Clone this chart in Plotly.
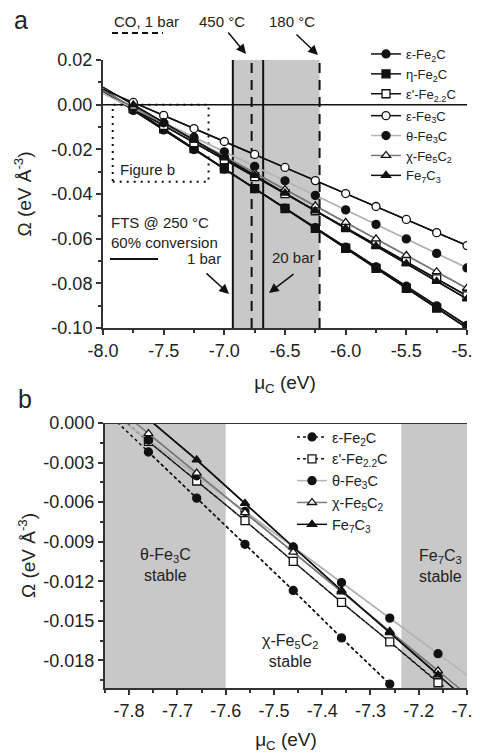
import plotly.graph_objects as go

# ---------------- data ----------------
# panel a : grand potential vs carbon chemical potential
mu_a = [-8.0, -7.75, -7.5, -7.25, -7.0, -6.75, -6.5, -6.25, -6.0, -5.75, -5.5, -5.25, -5.0]
eps_fe2c_a = [0.0062, -0.0026, -0.0113, -0.0201, -0.0288, -0.0376, -0.0463, -0.0551, -0.0638, -0.0726, -0.0813, -0.0901, -0.0988]
eta_fe2c_a = [0.0070, -0.0019, -0.0108, -0.0197, -0.0287, -0.0376, -0.0465, -0.0554, -0.0643, -0.0733, -0.0822, -0.0911, -0.1000]
epsp_fe22c_a = [0.0059, -0.0017, -0.0093, -0.0170, -0.0246, -0.0322, -0.0398, -0.0475, -0.0551, -0.0627, -0.0703, -0.0780, -0.0856]
eps_fe3c_a = [0.0068, 0.0010, -0.0048, -0.0107, -0.0165, -0.0223, -0.0281, -0.0340, -0.0398, -0.0456, -0.0514, -0.0573, -0.0631]
theta_fe3c_a = [0.0049, -0.0016, -0.0081, -0.0146, -0.0211, -0.0276, -0.0341, -0.0406, -0.0471, -0.0536, -0.0601, -0.0666, -0.0731]
chi_fe5c2_a = [0.0063, -0.0011, -0.0085, -0.0158, -0.0232, -0.0306, -0.0380, -0.0453, -0.0527, -0.0601, -0.0675, -0.0748, -0.0822]
fe7c3_a = [0.0078, -0.0001, -0.0080, -0.0159, -0.0238, -0.0317, -0.0396, -0.0475, -0.0554, -0.0633, -0.0712, -0.0791, -0.0870]

# reference chemical potentials (vertical lines) and shaded window
fts_mu = [-6.93, -6.68]        # FTS 1 bar, 20 bar
co_mu = [-6.775, -6.215]       # CO 1 bar at 450 C, 180 C
window_a = [-6.93, -6.215]
zoom_box = [-7.92, -7.13, -0.0345, 0.0]

# panel b : zoom
mu_b = [-7.86, -7.76, -7.66, -7.56, -7.46, -7.36, -7.26, -7.16, -7.06]
eps_fe2c_b = [0.0013, -0.0022, -0.0057, -0.0092, -0.0127, -0.0163, -0.0198, -0.0233, -0.0268]
epsp_fe22c_b = [0.0017, -0.0014, -0.0044, -0.0074, -0.0105, -0.0136, -0.0166, -0.0197, -0.0227]
theta_fe3c_b = [0.0014, -0.0013, -0.0040, -0.0067, -0.0094, -0.0121, -0.0148, -0.0175, -0.0202]
chi_fe5c2_b = [0.0022, -0.0008, -0.0038, -0.0068, -0.0098, -0.0128, -0.0158, -0.0188, -0.0218]
fe7c3_b = [0.0035, 0.0003, -0.0028, -0.0061, -0.0094, -0.0127, -0.0159, -0.0191, -0.0223]
theta_region = [-7.85, -7.6]
fe7c3_region = [-7.236, -7.1]

xtick_a = [-8.0, -7.5, -7.0, -6.5, -6.0, -5.5, -5.0]
xtext_a = ["-8.0", "-7.5", "-7.0", "-6.5", "-6.0", "-5.5", "-5.0"]
ytick_a = [0.02, 0.0, -0.02, -0.04, -0.06, -0.08, -0.10]
ytext_a = ["0.02", "0.00", "-0.02", "-0.04", "-0.06", "-0.08", "-0.10"]
xtick_b = [-7.8, -7.7, -7.6, -7.5, -7.4, -7.3, -7.2, -7.1]
xtext_b = ["-7.8", "-7.7", "-7.6", "-7.5", "-7.4", "-7.3", "-7.2", "-7.1"]
ytick_b = [0.0, -0.003, -0.006, -0.009, -0.012, -0.015, -0.018]
ytext_b = ["0.000", "-0.003", "-0.006", "-0.009", "-0.012", "-0.015", "-0.018"]

# ---------------- layout helpers ----------------
# the page body has an 8px margin, so the figure is drawn 8px right/down of the window corner
FONT = "Liberation Sans, Arial, Helvetica, sans-serif"
OFF = 8
W, H = 472, 745
L, T = 103 - OFF, 60 - OFF          # plot left/top in figure pixels
R = W - (467 - OFF)                 # plot right edge at window x = 467
B = H - (688 - OFF)                 # plot bottom edge at window y = 688
PW, PH = W - L - R, H - T - B


def px(x):
    """window pixel x -> paper fraction"""
    return (x - OFF - L) / PW


def py(y):
    """window pixel y -> paper fraction"""
    return (H - B - (y - OFF)) / PH


BLACK = "#111111"
GRAY_FILL = "#c8c8c8"

fig = go.Figure()

series_a = [
    ("ε-Fe<sub>2</sub>C", eps_fe2c_a, "circle", BLACK, BLACK, "g1"),
    ("η-Fe<sub>2</sub>C", eta_fe2c_a, "square", BLACK, BLACK, "g1"),
    ("ε'-Fe<sub>2.2</sub>C", epsp_fe22c_a, "square", "white", BLACK, "g1"),
    ("ε-Fe<sub>3</sub>C", eps_fe3c_a, "circle", "white", BLACK, "g2"),
    ("θ-Fe<sub>3</sub>C", theta_fe3c_a, "circle", BLACK, "#b4b4b4", "g2"),
    ("χ-Fe<sub>5</sub>C<sub>2</sub>", chi_fe5c2_a, "triangle-up", "white", "#7a7a7a", "g2"),
    ("Fe<sub>7</sub>C<sub>3</sub>", fe7c3_a, "triangle-up", BLACK, BLACK, "g2"),
]

for name, vals, sym, fill, lcol, grp in series_a:
    fig.add_trace(go.Scatter(x=mu_a, y=vals, mode="lines", line=dict(color=lcol, width=1.5),
                             showlegend=False, hoverinfo="skip", xaxis="x", yaxis="y"))
for name, vals, sym, fill, lcol, grp in series_a:
    fig.add_trace(go.Scatter(x=mu_a[1:], y=vals[1:], mode="lines+markers", name=name,
                             line=dict(color=lcol, width=1.5),
                             marker=dict(symbol=sym, size=8, color=fill, line=dict(color=BLACK, width=1.3)),
                             legend="legend", legendgroup=grp, xaxis="x", yaxis="y"))

series_b = [
    ("ε-Fe<sub>2</sub>C", eps_fe2c_b, "circle", BLACK, BLACK, "3px,3px"),
    ("ε'-Fe<sub>2.2</sub>C", epsp_fe22c_b, "square", "white", BLACK, "3px,3px"),
    ("θ-Fe<sub>3</sub>C", theta_fe3c_b, "circle", BLACK, "#b4b4b4", "solid"),
    ("χ-Fe<sub>5</sub>C<sub>2</sub>", chi_fe5c2_b, "triangle-up", "white", "#7a7a7a", "solid"),
    ("Fe<sub>7</sub>C<sub>3</sub>", fe7c3_b, "triangle-up", BLACK, BLACK, "solid"),
]
for name, vals, sym, fill, lcol, dash in series_b:
    fig.add_trace(go.Scatter(x=mu_b, y=vals, mode="lines", line=dict(color=lcol, width=1.5, dash=dash),
                             showlegend=False, hoverinfo="skip", xaxis="x2", yaxis="y2"))
for i, (name, vals, sym, fill, lcol, dash) in enumerate(series_b):
    fig.add_trace(go.Scatter(x=mu_b[1:-1], y=vals[1:-1], mode="lines+markers", name=name,
                             line=dict(color=lcol, width=1.5, dash=dash),
                             marker=dict(symbol=sym, size=8, color=fill, line=dict(color=BLACK, width=1.3)),
                             legend="legend2", legendgroup="b%d" % i, xaxis="x2", yaxis="y2"))

shapes = []
# panel a shading and lines
shapes.append(dict(type="rect", xref="x", yref="y", x0=window_a[0], x1=window_a[1], y0=-0.10, y1=0.02,
                   fillcolor=GRAY_FILL, line=dict(width=0), layer="below"))
shapes.append(dict(type="line", xref="x", yref="y", x0=-8.0, x1=-5.0, y0=0, y1=0,
                   line=dict(color=BLACK, width=1.5), layer="below"))
for m in fts_mu:
    shapes.append(dict(type="line", xref="x", yref="y", x0=m, x1=m, y0=-0.10, y1=0.02,
                       line=dict(color=BLACK, width=2), layer="below"))
for m in co_mu:
    shapes.append(dict(type="line", xref="x", yref="y", x0=m, x1=m, y0=-0.10, y1=0.02,
                       line=dict(color=BLACK, width=2, dash="10px,7px"), layer="below"))
shapes.append(dict(type="rect", xref="x", yref="y", x0=zoom_box[0], x1=zoom_box[1], y0=zoom_box[2], y1=zoom_box[3],
                   line=dict(color=BLACK, width=2, dash="2px,5px"), layer="below"))
# panel b shading
for reg in (theta_region, fe7c3_region):
    shapes.append(dict(type="rect", xref="x2", yref="y2", x0=reg[0], x1=reg[1], y0=-0.0201, y1=0.0,
                       fillcolor=GRAY_FILL, line=dict(width=0), layer="below"))
shapes.append(dict(type="line", xref="x2", yref="y2", x0=-7.85, x1=-7.1, y0=0, y1=0,
                   line=dict(color="#333333", width=2), layer="above"))
# key segments drawn next to the text notes
shapes.append(dict(type="line", xref="paper", yref="paper", x0=px(112), x1=px(163), y0=py(33), y1=py(33),
                   line=dict(color=BLACK, width=2, dash="6px,4px")))
shapes.append(dict(type="line", xref="paper", yref="paper", x0=px(110), x1=px(158), y0=py(259), y1=py(259),
                   line=dict(color=BLACK, width=2)))


def txt(x, y, s, size=15, anchor="left", **kw):
    return dict(xref="paper", yref="paper", x=px(x), y=py(y), text=s, showarrow=False,
                xanchor=anchor, yanchor="middle", font=dict(family=FONT, size=size, color="#222222"), **kw)


def arrow(tx, ty, fx, fy):
    return dict(xref="paper", yref="paper", x=px(tx), y=py(ty), ax=fx - tx, ay=fy - ty, text="",
                showarrow=True, arrowhead=2, arrowsize=1.3, arrowwidth=1.5, arrowcolor=BLACK)


annotations = [
    txt(21, 20, "a", 25, "center", height=22),
    txt(25, 399, "b", 25, "center", height=26),
    txt(112, 21, "CO, 1 bar"),
    txt(222, 21, "450 °C", anchor="center"),
    txt(292, 21, "180 °C", anchor="center"),
    arrow(246, 54, 227, 31),
    arrow(318, 55, 295, 33),
    txt(118, 170, "Figure b"),
    txt(109, 222, "FTS @ 250 °C"),
    txt(109, 242, "60% conversion"),
    txt(185, 258, "1 bar"),
    arrow(229, 294, 205, 272),
    txt(293, 257, "20 bar", anchor="center"),
    arrow(269, 293, 295, 273),
    txt(165, 565, "θ-Fe<sub>3</sub>C<br>stable", 16, "center"),
    txt(440, 566, "Fe<sub>7</sub>C<sub>3</sub><br>stable", 16, "center"),
    txt(290, 651, "χ-Fe<sub>5</sub>C<sub>2</sub><br>stable", 16, "center"),
]

axis_common = dict(showline=True, linecolor="#333333", linewidth=2, ticks="outside", ticklen=5,
                   tickwidth=1.5, tickcolor="#333333", showgrid=False, zeroline=False,
                   automargin=False, ticklabeloverflow="allow",
                   tickfont=dict(family=FONT, size=18, color="#222222"))

fig.update_layout(
    width=W, height=H,
    margin=dict(l=L, r=R, t=T, b=B),
    paper_bgcolor="white", plot_bgcolor="white",
    font=dict(family=FONT, size=15, color="#222222"),
    xaxis=dict(domain=[0, 1], range=[-8.0, -5.0], tickvals=xtick_a, ticktext=xtext_a, anchor="y",
               minor=dict(ticks="outside", dtick=0.25, ticklen=3, tickwidth=1.5, tickcolor="#333333"),
               title=dict(text="μ<sub>C</sub> (eV)", font=dict(family=FONT, size=19), standoff=16),
               **axis_common),
    yaxis=dict(domain=[py(328), 1], range=[-0.10, 0.02], tickvals=ytick_a, ticktext=ytext_a, anchor="x",
               minor=dict(ticks="outside", dtick=0.01, ticklen=3, tickwidth=1.5, tickcolor="#333333"),
               title=dict(text="Ω (eV Å<sup>-3</sup>)", font=dict(family=FONT, size=19), standoff=15),
               **axis_common),
    xaxis2=dict(domain=[px(105), 1], range=[-7.85, -7.1], tickvals=xtick_b, ticktext=xtext_b, anchor="y2",
                minor=dict(ticks="outside", dtick=0.05, ticklen=3, tickwidth=1.5, tickcolor="#333333"),
                title=dict(text="μ<sub>C</sub> (eV)", font=dict(family=FONT, size=19), standoff=14),
                **axis_common),
    yaxis2=dict(domain=[0, py(423)], range=[-0.0201, 0.0], tickvals=ytick_b, ticktext=ytext_b, anchor="x2",
                minor=dict(ticks="outside", dtick=0.0015, ticklen=3, tickwidth=1.5, tickcolor="#333333"),
                title=dict(text="Ω (eV Å<sup>-3</sup>)", font=dict(family=FONT, size=19), standoff=3),
                **axis_common),
    legend=dict(x=px(366), y=py(39), xanchor="left", yanchor="top", bgcolor="rgba(0,0,0,0)",
                traceorder="grouped", tracegroupgap=2, itemwidth=30,
                font=dict(family=FONT, size=13, color="#222222")),
    legend2=dict(x=px(292), y=py(421), xanchor="left", yanchor="top", bgcolor="rgba(0,0,0,0)",
                 traceorder="grouped", tracegroupgap=0, itemwidth=30,
                 font=dict(family=FONT, size=14.5, color="#222222")),
    shapes=shapes,
    annotations=annotations,
)

fig.write_html("out.html")
